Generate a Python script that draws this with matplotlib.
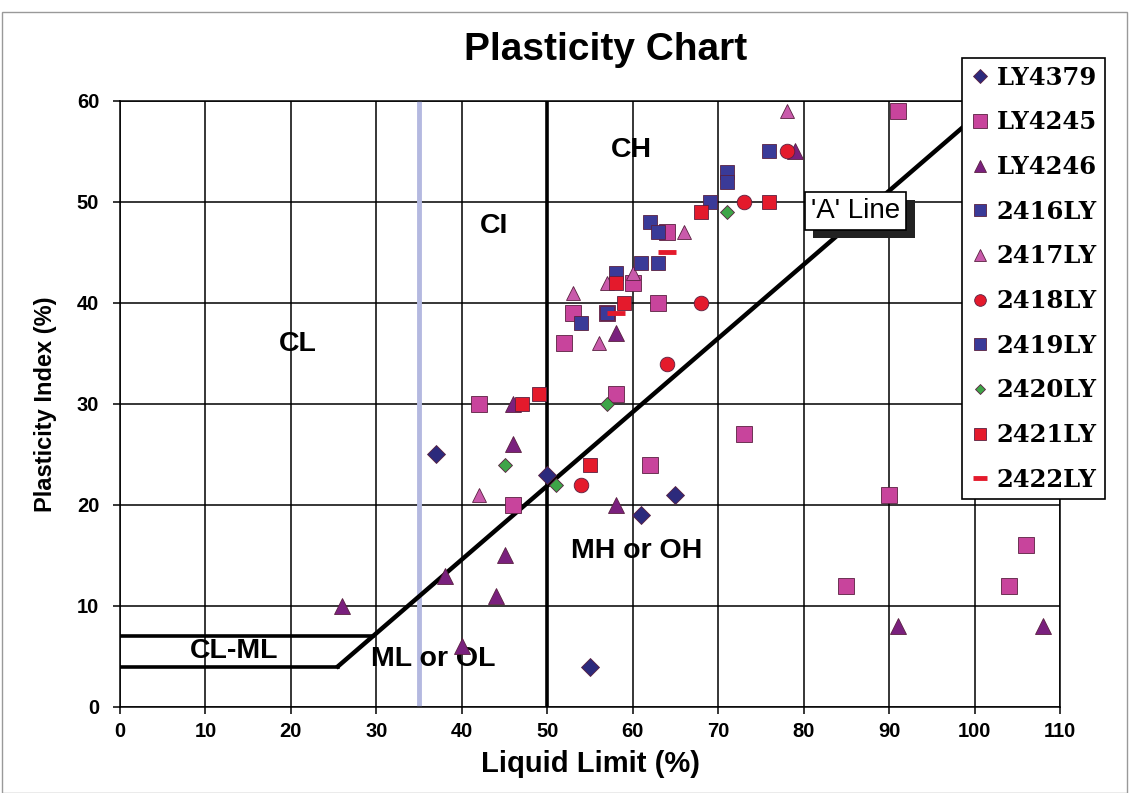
import numpy as np
import matplotlib
matplotlib.use("Agg")
from matplotlib import pyplot as plt
from matplotlib import patheffects
from matplotlib.patches import Rectangle

plt.rcParams['font.family'] = ['Liberation Sans', 'DejaVu Sans']

# liquid limit / plasticity index per sample set
ly4379_ll = [37, 50, 55, 61, 65]
ly4379_pi = [25, 23, 4, 19, 21]
ly4245_ll = [42, 46, 52, 53, 57, 58, 60, 62, 63, 64, 73, 85, 90, 91, 104, 106]
ly4245_pi = [30, 20, 36, 39, 39, 31, 42, 24, 40, 47, 27, 12, 21, 59, 12, 16]
ly4246_ll = [26, 38, 40, 44, 45, 46, 46, 58, 58, 79, 91, 108]
ly4246_pi = [10, 13, 6, 11, 15, 26, 30, 20, 37, 55, 8, 8]
s2416_ll = [54, 58, 62, 69, 71, 76]
s2416_pi = [38, 43, 48, 50, 53, 55]
s2417_ll = [42, 53, 56, 57, 60, 66, 78]
s2417_pi = [21, 41, 36, 42, 43, 47, 59]
s2418_ll = [54, 64, 68, 73, 78]
s2418_pi = [22, 34, 40, 50, 55]
s2419_ll = [57, 61, 63, 63, 71]
s2419_pi = [39, 44, 44, 47, 52]
s2420_ll = [45, 51, 57, 71]
s2420_pi = [24, 22, 30, 49]
s2421_ll = [47, 49, 55, 58, 59, 68, 76]
s2421_pi = [30, 31, 24, 42, 40, 49, 50]
s2422_ll = [64, 58]
s2422_pi = [45, 39]

x_ticks = list(range(0, 111, 10))
y_ticks = list(range(0, 61, 10))

# chart boundaries
a_line_ll = np.array([25.5, 102.2])
clml_low_ll = [0, 25.5]
clml_high_ll = [0, 29.6]

fig = plt.figure(figsize=(11.29, 7.93), dpi=100)
ax = fig.add_axes([0.1063, 0.1085, 0.8326, 0.7642])

fig.patches.append(Rectangle((0.002, 0.0), 0.996, 0.985, transform=fig.transFigure,
                             fill=False, ec='#999999', lw=1))

ax.set_xlim(0, 110)
ax.set_ylim(0, 60)
ax.set_xticks(x_ticks)
ax.set_yticks(y_ticks)
ax.grid(True, color='black', lw=1.1)
ax.set_axisbelow(True)
for s in ax.spines.values():
    s.set_color('black')
    s.set_linewidth(1.1)
ax.tick_params(direction='out', length=5, width=1.1, labelsize=14.5, pad=6)
ax.tick_params(axis='y', pad=10)
for lab in ax.get_xticklabels() + ax.get_yticklabels():
    lab.set_fontweight('bold')

ax.axvline(35, color='#b4b9e0', lw=3.5, zorder=2)
ax.axvline(50, color='black', lw=2.6, zorder=2)
ax.plot(a_line_ll, 0.73 * (a_line_ll - 20), color='black', lw=3.2, zorder=2)
ax.plot(clml_low_ll, [4, 4], color='black', lw=2.6, zorder=2)
ax.plot(clml_high_ll, [7, 7], color='black', lw=2.6, zorder=2)

series = [
    ('LY4379', ly4379_ll, ly4379_pi, 'D', '#2c2a7c', 9.5),
    ('LY4245', ly4245_ll, ly4245_pi, 's', '#c8449c', 12),
    ('LY4246', ly4246_ll, ly4246_pi, '^', '#7a207e', 11.5),
    ('2416LY', s2416_ll, s2416_pi, 's', '#3a3a98', 10.5),
    ('2417LY', s2417_ll, s2417_pi, '^', '#c95aab', 10.5),
    ('2418LY', s2418_ll, s2418_pi, 'o', '#e41a2c', 10.5),
    ('2419LY', s2419_ll, s2419_pi, 's', '#3a3a98', 10.5),
    ('2420LY', s2420_ll, s2420_pi, 'D', '#3ea548', 7),
    ('2421LY', s2421_ll, s2421_pi, 's', '#e41a2c', 10.5),
    ('2422LY', s2422_ll, s2422_pi, '_', '#e41a2c', 13),
]
for name, xs, ys, m, c, ms in series:
    if m == '_':
        ax.plot(xs, ys, ls='none', marker=m, ms=ms, mew=3.5, color=c, label=name, zorder=4)
    else:
        ax.plot(xs, ys, ls='none', marker=m, ms=ms, mfc=c, mec='#5a2040', mew=0.6,
                label=name, zorder=4)

leg = ax.legend(loc='upper left', bbox_to_anchor=(962 / 1129, 1 - 58 / 793),
                bbox_transform=fig.transFigure, borderaxespad=0, frameon=True,
                fancybox=False, edgecolor='black', framealpha=1, handlelength=0.8,
                handletextpad=0.3, borderpad=0.32, labelspacing=0.85, markerscale=0.8,
                prop={'family': 'DejaVu Serif', 'weight': 'bold', 'size': 17.5})
leg.get_frame().set_linewidth(1.2)
leg.set_zorder(10)

region_style = dict(fontsize=20.5, fontweight='bold', ha='center', va='center', zorder=3)
ax.text(59.8, 55.1, 'CH', **region_style)
ax.text(43.8, 47.6, 'CI', **region_style)
ax.text(20.8, 35.9, 'CL', **region_style)
ax.text(13.4, 5.5, 'CL-ML', **region_style)
ax.text(36.6, 4.7, 'ML or OL', **region_style)
ax.text(60.5, 15.4, 'MH or OH', **region_style)

a_label = ax.text(86.1, 49.1, "'A' Line", fontsize=20, ha='center', va='center', zorder=6,
                  bbox=dict(boxstyle='square,pad=0.22', fc='white', ec='black', lw=1.2))
a_label.get_bbox_patch().set_path_effects([
    patheffects.SimplePatchShadow(offset=(6, -6), shadow_rgbFace='#222222', alpha=1.0),
    patheffects.Normal()])

fig.text(0.536, 0.937, 'Plasticity Chart', fontsize=28, fontweight='bold', ha='center', va='center')
ax.set_xlabel('Liquid Limit (%)', fontsize=21, fontweight='bold', labelpad=6)
ax.set_ylabel('Plasticity Index (%)', fontsize=17, fontweight='bold', labelpad=14)

fig.savefig('out.png', dpi=100)
